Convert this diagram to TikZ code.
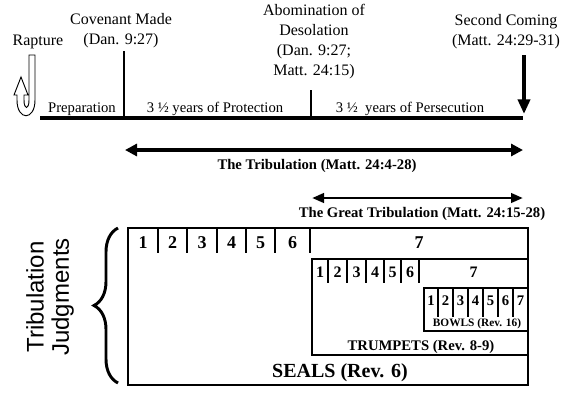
\documentclass[tikz,border=0pt]{standalone}
\usepackage{fontspec}
\setmainfont{Liberation Serif}
\newfontfamily\sansfam{Liberation Sans}
\usepackage{tikz}
\usetikzlibrary{calc}
\usetikzlibrary{arrows.meta}
\usetikzlibrary{decorations.pathreplacing}
\tikzset{>=latex}

\begin{document}
\begin{tikzpicture}[x=0.75pt,y=-0.75pt,
    event/.style={font=\fontsize{12}{15}\selectfont, align=center, inner sep=1pt, anchor=south},
    span/.style={font=\fontsize{11}{13}\selectfont, anchor=base, inner sep=0pt},
    title/.style={font=\fontsize{11}{13}\selectfont\bfseries, anchor=base, inner sep=0pt},
    num/.style={font=\bfseries, anchor=base, inner sep=0pt}]
    \useasboundingbox (0,0) rectangle (575,394);

    \coordinate (tlA) at (40,118);
    \coordinate (tlB) at (523,118);
    \coordinate (cov) at (124,118);
    \coordinate (abom) at (311,118);
    \coordinate (sec) at (524,55);

    \draw[line width=3pt] (tlA) -- (tlB);
    \draw[line width=2.2pt] (cov) -- ($(cov)+(0,-67)$);
    \draw[line width=2pt] (abom) -- ($(abom)+(0,-28)$);
    \draw[line width=3pt, -{Triangle[length=11pt,width=9pt]}] (sec) -- ($(sec)+(0,59)$);

    % rapture hook
    \draw[line width=0.7pt, fill=white] (29,55) -- (35,55) -- (35,100)
        .. controls (35,121) and (17,121) .. (17,100) -- (17,95) -- (14,95) -- (21,77)
        -- (28,95) -- (24,95) -- (24,100) .. controls (24,110) and (29,110) .. (29,100) -- cycle;

    % tribulation spans
    \coordinate (trA) at (125,150);
    \coordinate (trB) at (523,150);
    \coordinate (gtA) at (312,198);
    \coordinate (gtB) at (523,198);
    \draw[line width=3pt, {Triangle[length=9pt,width=9pt]}-{Triangle[length=9pt,width=9pt]}] (trA) -- (trB);
    \draw[line width=2.2pt, {Triangle[length=9pt,width=7pt]}-{Triangle[length=9pt,width=7pt]}] (gtA) -- (gtB);

    % judgment boxes
    \draw[line width=1.5pt] (128,228) rectangle (528,385);
    \draw[line width=1.5pt] (312,259) rectangle (528,355);
    \draw[line width=1.5pt] (424,288) rectangle (528,331);
    \foreach \x in {158,187,217,246,275,310}
        \draw[line width=1.5pt] (\x,228) -- (\x,253);
    \foreach \x in {328,347,366,384,401,419}
        \draw[line width=1.5pt] (\x,259) -- (\x,283);
    \foreach \x in {438,453,468,483,498,513}
        \draw[line width=1.5pt] (\x,288) -- (\x,317);

    \foreach \n/\x in {1/143,2/172.5,3/202,4/231.5,5/260.5,6/292.5,7/419}
        \node[num, font=\fontsize{13.5}{15}\selectfont\bfseries] (seal\n) at (\x,248) {\n};
    \foreach \n/\x in {1/320,2/337.5,3/356.5,4/375,5/392.5,6/410,7/473.5}
        \node[num, font=\fontsize{12}{14}\selectfont\bfseries] (trump\n) at (\x,277.5) {\n};
    \foreach \n/\x in {1/431,2/445.5,3/460.5,4/475.5,5/490.5,6/505.5,7/520.5}
        \node[num, font=\fontsize{11}{13}\selectfont\bfseries] (bowl\n) at (\x,305) {\n};

    \draw[line width=2.2pt, decorate, decoration={brace, amplitude=18pt}] (118,383) -- (118,228);

    % Labels
    \node[event] (rapture) at (38,51) {Rapture};
    \node[event] (covenant) at (121,49) {Covenant Made\\(Dan. 9:27)};
    \node[event] (abomination) at (314,81) {Abomination of\\Desolation\\(Dan. 9:27;\\Matt. 24:15)};
    \node[event] (second) at (506,51) {Second Coming\\(Matt. 24:29-31)};
    \node[span] (prep) at (82,112) {Preparation};
    \node[span] (protect) at (215,112) {3 ½ years of Protection};
    \node[span] (persec) at (410,112) {3 ½~ years of Persecution};
    \node[title] (trib) at (317,169) {The Tribulation (Matt. 24:4-28)};
    \node[title] (great) at (422,217) {The Great Tribulation (Matt. 24:15-28)};
    \node[num, font=\fontsize{15}{17}\selectfont\bfseries] (seals) at (340,377) {SEALS (Rev. 6)};
    \node[title] (trumpets) at (421,350) {TRUMPETS (Rev. 8-9)};
    \node[num, font=\fontsize{8.5}{10}\selectfont\bfseries] (bowls) at (477,326) {BOWLS (Rev. 16)};
    \node[rotate=90, align=center, inner sep=0pt, font=\sansfam\fontsize{18}{19}\selectfont] (judg) at (50,297) {Tribulation\\Judgments};
\end{tikzpicture}
\end{document}
